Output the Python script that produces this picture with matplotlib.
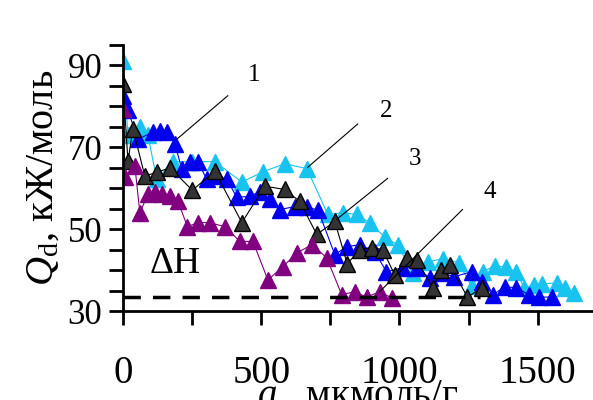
import matplotlib
matplotlib.use("Agg")
import matplotlib.pyplot as plt
from matplotlib.ticker import FixedLocator, MultipleLocator

plt.rcParams.update({
    "font.family": ["Liberation Serif", "DejaVu Serif"],
    "mathtext.fontset": "custom",
    "mathtext.rm": "Liberation Serif",
    "mathtext.it": "Liberation Serif:italic",
})

# series 1 (blue)
x1 = [0, 18, 54, 108, 134, 159, 188, 213, 242, 271, 303, 339, 376, 411, 459, 495, 531,
      567, 621, 665, 706, 766, 809, 856, 910, 953, 1012, 1062, 1109, 1152, 1199, 1261,
      1300, 1337, 1380, 1423, 1470, 1506, 1553]
y1 = [82.6, 79.0, 72.0, 73.7, 74.0, 73.7, 70.8, 64.6, 66.4, 66.4, 62.2, 63.0, 62.2, 57.8,
      58.0, 59.2, 57.3, 54.8, 55.5, 55.5, 54.6, 43.8, 45.7, 46.2, 44.5, 39.6, 40.6, 40.6,
      38.1, 39.3, 38.4, 39.6, 37.1, 33.9, 35.9, 35.7, 33.9, 33.4, 33.4]

# series 2 (cyan)
x2 = [0, 18, 25, 61, 90, 122, 180, 249, 332, 430, 506, 585, 665, 741, 795, 845, 892, 947,
      993, 1048, 1102, 1157, 1214, 1261, 1301, 1344, 1387, 1420, 1452, 1485, 1514, 1568,
      1600, 1633]
y2 = [91.0, 73.0, 73.0, 75.0, 73.0, 62.2, 66.5, 66.5, 66.5, 61.5, 64.0, 66.0, 64.8, 53.6,
      54.0, 53.6, 51.6, 48.0, 46.2, 39.3, 42.0, 42.8, 41.8, 36.0, 39.6, 41.0, 40.8, 39.6,
      35.7, 36.4, 36.6, 36.9, 35.7, 34.4]

# series 3 (black)
x3 = [0, 18, 36, 79, 123, 170, 251, 332, 430, 513, 585, 639, 701, 766, 811, 856, 899, 939,
      983, 1026, 1062, 1120, 1152, 1181, 1246, 1300]
y3 = [85.5, 66.6, 74.5, 63.0, 63.9, 65.0, 59.5, 64.2, 51.6, 60.5, 59.7, 56.8, 48.7, 51.9,
      41.5, 45.0, 45.5, 45.0, 38.8, 43.0, 42.5, 35.7, 40.0, 41.3, 33.4, 35.7]

# series 4 (purple)
x4 = [0, 7, 43, 61, 90, 116, 141, 170, 199, 233, 271, 314, 368, 423, 470, 524, 578, 629,
      683, 737, 791, 838, 881, 928, 972]
y4 = [79.4, 62.7, 65.4, 54.0, 58.5, 59.0, 58.5, 58.0, 56.8, 50.6, 51.6, 51.6, 50.6, 47.0,
      47.0, 37.6, 40.8, 44.2, 46.2, 43.0, 34.0, 34.7, 33.4, 34.7, 33.2]

dh_x = [0, 1290]
dh_y = [33.4, 33.4]

y_ticks = [30, 50, 70, 90]

# label text, label position, pointer start, pointer end
callouts = [
    ("1", (473, 87.7), (379, 82.6), (195, 72.0)),
    ("2", (950, 78.9), (849, 75.7), (668, 65.1)),
    ("3", (1055, 67.1), (957, 62.4), (773, 52.4)),
    ("4", (1326, 59.2), (1228, 54.8), (928, 34.7)),
]

series = [
    (x2, y2, "#19c3f0", "#19c3f0"),
    (x1, y1, "#0000ee", "#0000ee"),
    (x3, y3, "#333333", "#000000"),
    (x4, y4, "#800080", "#800080"),
]

fig = plt.figure(figsize=(5.93, 4.0), dpi=100)
ax = fig.add_axes([0.2074, 0.2225, 0.7926, 0.665])

for xs, ys, fc, ec in series:
    line_color = "#000000" if ec == "#000000" else fc
    ax.plot(xs, ys, color=line_color, linewidth=0.8, marker="^", markersize=11,
            markerfacecolor=fc, markeredgecolor=ec, markeredgewidth=1.0)

ax.plot(dh_x, dh_y, color="black", linewidth=2.5, dashes=(5, 3.5))
ax.text(190, 41.5, "ΔH", fontsize=27, ha="center", va="center")

for text, pos, start, end in callouts:
    ax.plot([start[0], end[0]], [start[1], end[1]], color="black", linewidth=0.8)
    ax.text(pos[0], pos[1], text, fontsize=18, ha="center", va="center")

ax.set_xlim(0, 1700)
ax.set_ylim(30, 95)
ax.xaxis.set_major_locator(MultipleLocator(500))
ax.xaxis.set_minor_locator(MultipleLocator(250))
ax.yaxis.set_major_locator(FixedLocator(y_ticks))
ax.yaxis.set_minor_locator(MultipleLocator(5))

for side in ("top", "right"):
    ax.spines[side].set_visible(False)
for side in ("left", "bottom"):
    ax.spines[side].set_linewidth(2)

ax.tick_params(axis="x", which="both", direction="out", length=10, width=2,
               labelsize=28, pad=22)
ax.tick_params(axis="y", which="both", direction="out", length=10, width=2,
               labelsize=25, pad=5)

ax.set_ylabel("$Q$$_{\\rm d}$, кЖ/моль", fontsize=29, labelpad=4)
ax.set_xlabel("$a$ , мкмоль/г", fontsize=28, labelpad=-11)

fig.savefig("out.png", dpi=100)
